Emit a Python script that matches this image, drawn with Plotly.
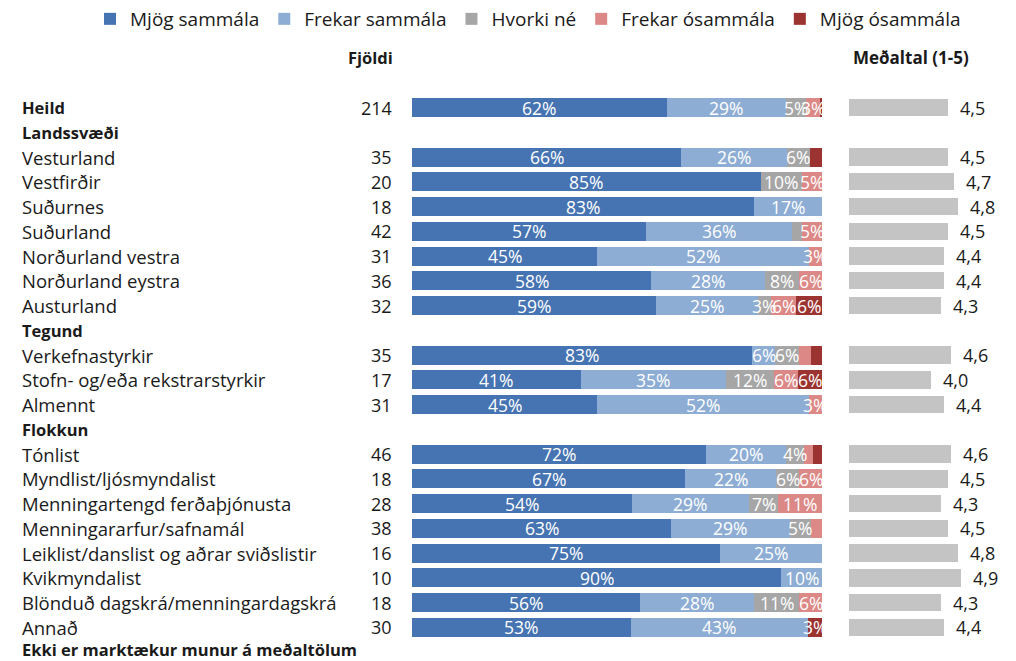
import plotly.graph_objects as go

# ---------------- data ----------------
series_names = ["Mjög sammála", "Frekar sammála", "Hvorki né", "Frekar ósammála", "Mjög ósammála"]
series_colors = ["#4673B1", "#8EADD4", "#A6A6A6", "#DC8886", "#9B3431"]

labels = ["Heild", "Vesturland", "Vestfirðir", "Suðurnes", "Suðurland", "Norðurland vestra",
          "Norðurland eystra", "Austurland", "Verkefnastyrkir", "Stofn- og/eða rekstrarstyrkir",
          "Almennt", "Tónlist", "Myndlist/ljósmyndalist", "Menningartengd ferðaþjónusta",
          "Menningararfur/safnamál", "Leiklist/danslist og aðrar sviðslistir", "Kvikmyndalist",
          "Blönduð dagskrá/menningardagskrá", "Annað"]
fjoldi = [214, 35, 20, 18, 42, 31, 36, 32, 35, 17, 31, 46, 18, 28, 38, 16, 10, 18, 30]

mjog_sammala = [62.1, 65.7, 85.0, 83.3, 57.1, 45.2, 58.3, 59.4, 82.9, 41.2, 45.2, 71.7, 66.7, 53.6, 63.2, 75.0, 90.0, 55.6, 53.3]
frekar_sammala = [29.0, 25.7, 0.0, 16.7, 35.7, 51.6, 27.8, 25.0, 5.7, 35.3, 51.6, 19.6, 22.2, 28.6, 28.9, 25.0, 10.0, 27.8, 43.3]
hvorki_ne = [5.1, 5.7, 10.0, 0.0, 2.4, 0.0, 8.3, 3.1, 5.7, 11.8, 0.0, 4.3, 5.6, 7.1, 5.3, 0.0, 0.0, 11.1, 0.0]
frekar_osammala = [3.3, 0.0, 5.0, 0.0, 4.8, 3.2, 5.6, 6.25, 2.9, 5.9, 3.2, 2.2, 5.6, 10.7, 2.6, 0.0, 0.0, 5.6, 0.0]
mjog_osammala = [0.5, 2.9, 0.0, 0.0, 0.0, 0.0, 0.0, 6.25, 2.9, 5.9, 0.0, 2.2, 0.0, 0.0, 0.0, 0.0, 0.0, 0.0, 3.3]

medaltal = [4.5, 4.5, 4.7, 4.8, 4.5, 4.4, 4.4, 4.3, 4.6, 4.0, 4.4, 4.6, 4.5, 4.3, 4.5, 4.8, 4.9, 4.3, 4.4]

groups = [("Landssvæði", 7), ("Tegund", 3), ("Flokkun", 8)]
footer = "Ekki er marktækur munur á meðaltölum"

# ---------------- layout helpers ----------------
W, H = 1016, 661
def fx(xpage):
    return xpage / W
def fy(ypage):
    return 1 - ypage / H

ROW_PX = 24.87
FIRST_ROW_PAGE = 105
y_top = -FIRST_ROW_PAGE / ROW_PX
y_bot = (H - FIRST_ROW_PAGE) / ROW_PX

data_y = [0]
header_rows = []
r = 1
for name, cnt in groups:
    header_rows.append((name, r))
    r += 1
    for _ in range(cnt):
        data_y.append(r)
        r += 1
footer_row = r

FONT = "'Open Sans', sans-serif"
TXT = "#1a1a1a"
REG = 18.5
BOLD = 16.5

fig = go.Figure()

all_series = [mjog_sammala, frekar_sammala, hvorki_ne, frekar_osammala, mjog_osammala]
annotations = []
cum = [0.0] * len(labels)
for name, color, vals in zip(series_names, series_colors, all_series):
    fig.add_trace(go.Bar(
        name=name, orientation="h", x=vals, y=data_y,
        marker=dict(color=color, line=dict(width=0)),
        width=0.77, textposition="none",
        xaxis="x", yaxis="y", hoverinfo="skip",
    ))
    for k, (v, yy) in enumerate(zip(vals, data_y)):
        if v >= 3:
            annotations.append(dict(x=cum[k] + v / 2, y=yy, xref="x", yref="y", text=f"{v:.0f}%",
                                    xanchor="center", yanchor="middle", showarrow=False,
                                    font=dict(size=17.5, family=FONT, color="white")))
        cum[k] += v

fig.add_trace(go.Bar(
    name="Meðaltal", orientation="h", x=medaltal, y=data_y,
    marker=dict(color="#C4C4C4", line=dict(width=0)), width=0.7,
    xaxis="x2", yaxis="y", showlegend=False, hoverinfo="skip",
))

for i, (lab, n, yy) in enumerate(zip(labels, fjoldi, data_y)):
    annotations.append(dict(x=fx(20), y=yy, xref="paper", yref="y", text=(f"<b>{lab}</b>" if i == 0 else lab),
                            xanchor="left", yanchor="middle", showarrow=False,
                            font=dict(size=(BOLD if i == 0 else REG), family=FONT, color=TXT)))
    annotations.append(dict(x=fx(394), y=yy, xref="paper", yref="y", text=str(n),
                            xanchor="right", yanchor="middle", showarrow=False,
                            font=dict(size=18, family=FONT, color=TXT)))
for name, yy in header_rows:
    annotations.append(dict(x=fx(20), y=yy, xref="paper", yref="y", text=f"<b>{name}</b>",
                            xanchor="left", yanchor="middle", showarrow=False,
                            font=dict(size=BOLD, family=FONT, color=TXT)))
annotations.append(dict(x=fx(20), y=footer_row, xref="paper", yref="y", text=f"<b>{footer}</b>",
                        xanchor="left", yanchor="middle", showarrow=False, yshift=3,
                        font=dict(size=BOLD, family=FONT, color=TXT)))
for m, yy in zip(medaltal, data_y):
    annotations.append(dict(x=m, y=yy, xref="x2", yref="y", text=f"{m:.1f}".replace(".", ","),
                            xanchor="left", yanchor="middle", showarrow=False, xshift=10,
                            font=dict(size=18, family=FONT, color=TXT)))
annotations.append(dict(x=fx(395), y=fy(55), xref="paper", yref="paper", text="<b>Fjöldi</b>",
                        xanchor="right", yanchor="middle", showarrow=False,
                        font=dict(size=16.5, family=FONT, color=TXT)))
annotations.append(dict(x=fx(851), y=fy(55), xref="paper", yref="paper", text="<b>Meðaltal (1-5)</b>",
                        xanchor="left", yanchor="middle", showarrow=False,
                        font=dict(size=17, family=FONT, color=TXT)))

fig.update_layout(
    width=W, height=H,
    margin=dict(l=0, r=0, t=0, b=0),
    paper_bgcolor="white", plot_bgcolor="rgba(0,0,0,0)",
    barmode="stack", bargap=0,
    font=dict(family=FONT, color=TXT),
    showlegend=True,
    legend=dict(orientation="h", traceorder="normal", x=fx(528), y=fy(16), xanchor="center", yanchor="middle",
                font=dict(size=19, family=FONT, color=TXT), itemwidth=30, tracegroupgap=0,
                bgcolor="rgba(0,0,0,0)"),
    xaxis=dict(domain=[fx(412), fx(822)], range=[0, 100], visible=False, fixedrange=True),
    xaxis2=dict(domain=[fx(849), fx(1005)], range=[1.6, 1.6 + 156 / 34], anchor="y",
                visible=False, fixedrange=True),
    yaxis=dict(range=[y_bot, y_top], visible=False, domain=[0, 1], fixedrange=True),
    annotations=annotations,
)

fig.write_html("out.html", config={"displayModeBar": False},
               post_script="document.body.style.margin='0';")
